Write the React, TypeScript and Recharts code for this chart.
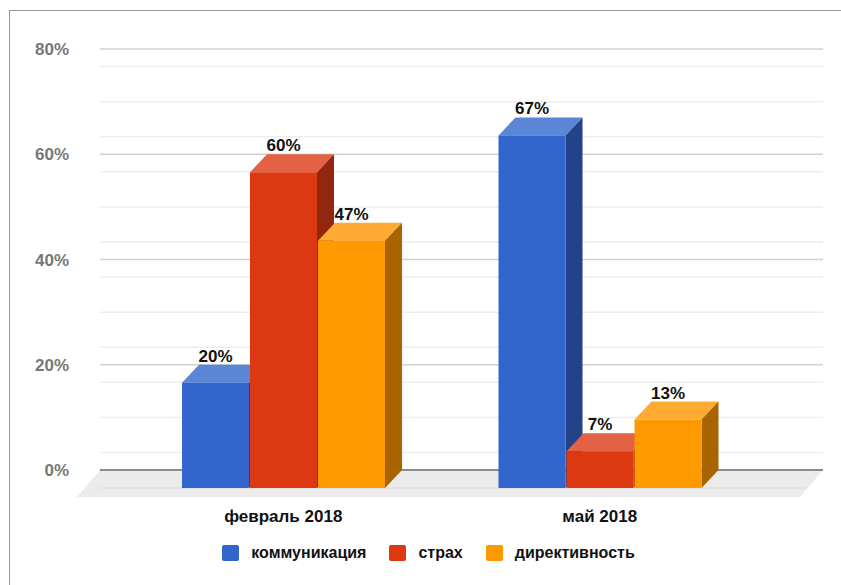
import React from "react";
import {
  BarChart,
  Bar,
  XAxis,
  YAxis,
  CartesianGrid,
  ReferenceArea,
  LabelList,
  Legend,
} from "recharts";

const categories = ["февраль 2018", "май 2018"];
const communication = [20, 67];
const fear = [60, 7];
const directive = [47, 13];
const seriesNames = ["коммуникация", "страх", "директивность"];
const majorTicks = [0, 20, 40, 60, 80];

// depth offset of the 3D front face relative to the back plane
const DX = -17;
const DY = 18;
const PAD_L = 42;
const PAD_R = 48;

const FACES: Record<string, { front: string; top: string; side: string }> = {
  communication: { front: "#3366cc", top: "#5b86d6", side: "#22428a" },
  fear: { front: "#dc3912", top: "#e36243", side: "#92260e" },
  directive: { front: "#ff9900", top: "#ffab33", side: "#a86400" },
};

const data = categories.map((name, i) => ({
  name,
  communication: communication[i],
  fear: fear[i],
  directive: directive[i],
}));

// minor gridlines: five between each pair of major ticks
const minorTicks: number[] = [];
for (let i = 0; i < majorTicks.length - 1; i++) {
  const step = (majorTicks[i + 1] - majorTicks[i]) / 6;
  for (let k = 1; k < 6; k++) minorTicks.push(majorTicks[i] + step * k);
}

const FONT = "'Liberation Sans', Arial, sans-serif";

function Bar3D(props: any) {
  const { x, y, width: w, height: h, dataKey } = props;
  const c = FACES[dataKey as string] ?? FACES.communication;
  if (w == null || h == null) return null;
  return (
    <g>
      <polygon
        points={`${x + DX},${y + DY} ${x},${y} ${x + w},${y} ${x + w + DX},${y + DY}`}
        fill={c.top}
      />
      <polygon
        points={`${x + w + DX},${y + DY} ${x + w},${y} ${x + w},${y + h} ${x + w + DX},${y + h + DY}`}
        fill={c.side}
      />
      <rect x={x + DX} y={y + DY} width={w} height={h} fill={c.front} />
    </g>
  );
}

// floor under the bars; the area gets the padded band range, so widen it back to the plot
function Floor(props: any) {
  const { y, height } = props;
  const x = props.x - PAD_L;
  const x1 = props.x + props.width + PAD_R;
  const y0 = y + height;
  return (
    <g>
      <polygon
        points={`${x},${y0} ${x1},${y0} ${x1 - 23},${y0 + 27} ${x - 23},${y0 + 27}`}
        fill="#ebebeb"
      />
      <line x1={x} x2={x1 + DX} y1={y0 + DY} y2={y0 + DY} stroke="#e0e0e0" strokeWidth={1.5} />
      <line x1={x} x2={x1} y1={y0} y2={y0} stroke="#8c8c8c" strokeWidth={2} />
    </g>
  );
}

function ValueLabel(props: any) {
  const { x, y, width, value } = props;
  return (
    <text
      x={x + width / 2 + DX}
      y={y - 3}
      textAnchor="middle"
      fontFamily={FONT}
      fontWeight="bold"
      fontSize={17}
      fill="#111"
    >
      {`${value}%`}
    </text>
  );
}

function CategoryTick(props: any) {
  const { x, y, payload } = props;
  return (
    <text
      x={x + DX}
      y={y + 52}
      textAnchor="middle"
      fontFamily={FONT}
      fontWeight="bold"
      fontSize={17}
      fill="#111"
    >
      {payload.value}
    </text>
  );
}

function LegendContent(props: any) {
  const payload = [...(props.payload ?? [])].sort(
    (a: any, b: any) => seriesNames.indexOf(a.value) - seriesNames.indexOf(b.value)
  );
  return (
    <div
      style={{
        display: "flex",
        justifyContent: "center",
        alignItems: "center",
        height: 70,
        paddingTop: 6,
        paddingRight: 6,
        boxSizing: "border-box",
        fontFamily: FONT,
        fontWeight: "bold",
        fontSize: 16,
        color: "#111",
      }}
    >
      {payload.map((item: any, i: number) => (
        <div
          key={i}
          style={{ display: "flex", alignItems: "center", marginRight: i < payload.length - 1 ? 23 : 0 }}
        >
          <span
            style={{
              display: "inline-block",
              width: 17,
              height: 16,
              borderRadius: 2,
              background: item.color,
              marginRight: 12,
            }}
          />
          <span>{item.value}</span>
        </div>
      ))}
    </div>
  );
}

export default function App() {
  return (
    <div
      style={{
        position: "absolute",
        left: 0,
        top: 0,
        width: 841,
        height: 585,
        background: "#fff",
        overflow: "hidden",
      }}
    >
      <div
        style={{
          position: "absolute",
          left: 9,
          top: 10,
          width: 840,
          height: 580,
          borderTop: "1.5px solid #9a9a9a",
          borderLeft: "1.5px solid #9a9a9a",
        }}
      />
      <div style={{ position: "absolute", left: 0, top: 0 }}>
        <BarChart
          width={841}
          height={585}
          data={data}
          margin={{ top: 49, right: 18, left: 40, bottom: 0 }}
          barSize={67}
          barGap={1}
        >
          <CartesianGrid
            vertical={false}
            horizontalValues={minorTicks}
            stroke="#ededed"
            strokeWidth={1.5}
          />
          <CartesianGrid
            vertical={false}
            horizontalValues={majorTicks.slice(1)}
            stroke="#d2d2d2"
            strokeWidth={1.5}
          />
          <XAxis
            dataKey="name"
            axisLine={false}
            tickLine={false}
            tickSize={0}
            tickMargin={0}
            height={45}
            padding={{ left: PAD_L, right: PAD_R }}
            tick={<CategoryTick />}
          />
          <YAxis
            domain={[0, 80]}
            ticks={majorTicks}
            width={60}
            axisLine={false}
            tickLine={false}
            tickSize={0}
            tickMargin={31}
            tickFormatter={(v: number) => `${v}%`}
            tick={{ fill: "#777", fontSize: 17, fontWeight: "bold", fontFamily: FONT }}
          />
          <ReferenceArea y1={0} y2={1} shape={<Floor />} zIndex={-50} ifOverflow="visible" />
          <Legend verticalAlign="bottom" content={<LegendContent />} />
          <Bar dataKey="communication" name={seriesNames[0]} fill={FACES.communication.front} shape={<Bar3D />} isAnimationActive={false}>
            <LabelList dataKey="communication" content={<ValueLabel />} />
          </Bar>
          <Bar dataKey="fear" name={seriesNames[1]} fill={FACES.fear.front} shape={<Bar3D />} isAnimationActive={false}>
            <LabelList dataKey="fear" content={<ValueLabel />} />
          </Bar>
          <Bar dataKey="directive" name={seriesNames[2]} fill={FACES.directive.front} shape={<Bar3D />} isAnimationActive={false}>
            <LabelList dataKey="directive" content={<ValueLabel />} />
          </Bar>
        </BarChart>
      </div>
    </div>
  );
}
